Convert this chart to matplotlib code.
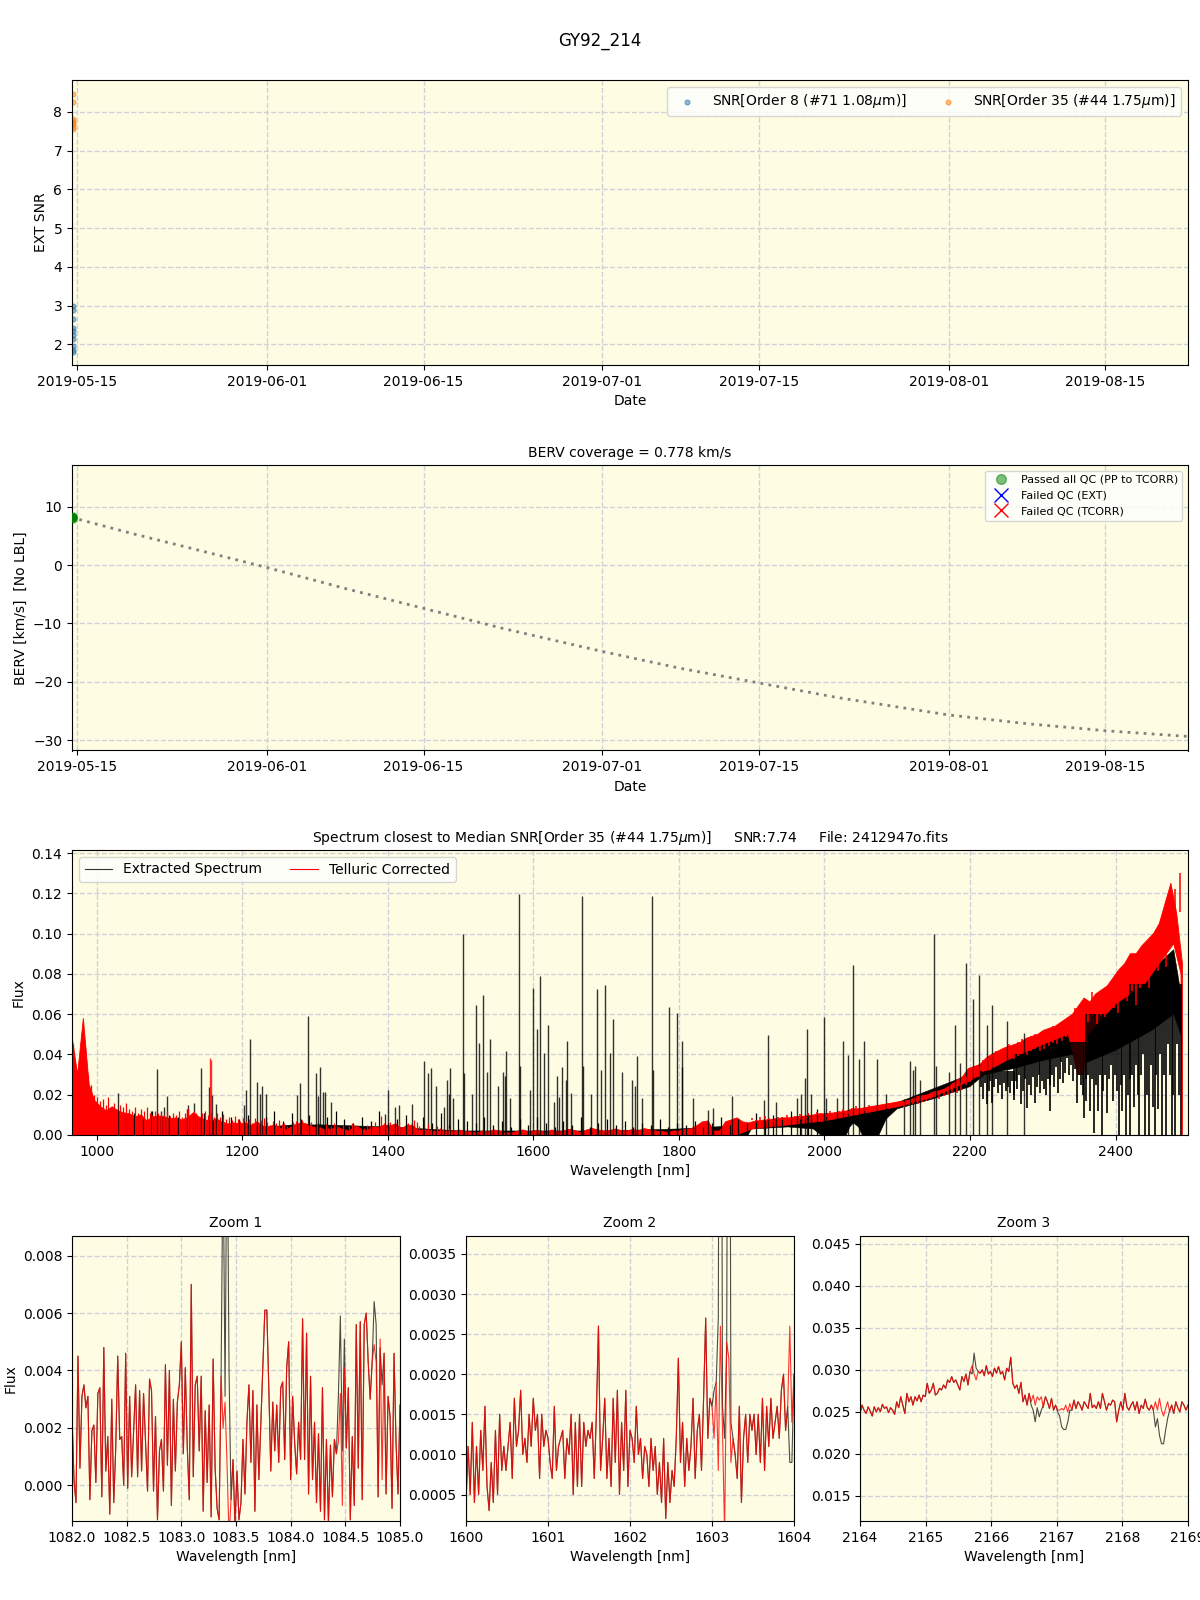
import numpy as np
import matplotlib
matplotlib.use('Agg')
import matplotlib.pyplot as plt
import matplotlib.dates as mdates
from matplotlib.lines import Line2D
from datetime import datetime

W, H = 1200, 1600
bg = '#fefde3'

date_ticks = ['2019-05-15', '2019-06-01', '2019-06-15', '2019-07-01', '2019-07-15', '2019-08-01', '2019-08-15']
obs_day = '2019-05-14 15:00'

snr_order8 = [1.8, 1.85, 1.95, 2.15, 2.25, 2.35, 2.42, 2.65, 2.9, 3.0]
snr_order35 = [7.55, 7.62, 7.68, 7.72, 7.76, 7.82, 8.25, 8.47]

berv_dates = ['2019-05-14 12:00', '2019-05-20', '2019-05-25', '2019-06-01', '2019-06-08', '2019-06-15', '2019-06-22',
              '2019-07-01', '2019-07-08', '2019-07-15', '2019-07-22', '2019-08-01', '2019-08-08', '2019-08-15',
              '2019-08-22 12:00']
berv_vals = [8.2, 5.4, 3.0, -0.4, -4.0, -7.4, -10.8, -14.8, -17.7, -20.2, -22.7, -25.7, -27.2, -28.4, -29.4]
berv_obs = [8.0, 8.1, 8.2, 8.3, 8.4]

# full spectrum, telluric corrected: top edge, every 8 nm from 966
red_top = [.05, .03, .058, .025, .017, .014,
           .012, .014, .012, .011, .0105, .009, .01, .007, .009, .0095, .009,
           .008, .0085, .0075, .0085, .011, .009, .0075, .007, .008, .0065, .0055, .006,
           .0055, .006, .0048, .0065, .0045, .004, .005, .0035, .0025, .004, .0055, .006, .005,
           .0035, .0035, .002, .003, .004, .0025, .002, .0045, .003, .002, .004, .0035, .005,
           .0045, .0055, .003, .005, .0045, .002, .0025, .002, .0015, .002, .002, .0015, .0025,
           .0018, .0015, .001, .002, .0015, .0025, .002, .0012, .001, .0018, .0025, .0015, .0022,
           .002, .0012, .0025, .0015, .002, .0028, .0022, .0012, .0025, .0032, .0025, .002, .0022,
           .003, .0022, .002, .0028, .002, .0032, .0025, .002, .0018, .0012, .002, .002, .0028,
           .003, .0045, .0065, .007, .002, .002, .0065, .0075, .0085, .0065, .006, .0068, .0072,
           .0075, .0078, .0082, .0085, .0085, .009, .0092, .0095, .0098, .0105, .0105, .0108, .011,
           .0115, .012, .013, .013, .0135, .014, .0145, .015, .0155, .016, .0165, .017, .0175,
           .019, .0195, .02, .0215, .022, .023, .025, .027, .029, .033, .034, .035, .038,
           .04, .0415, .043, .044, .045, .046, .048, .049, .05, .052, .053, .054, .056,
           .058, .06, .064, .068, .066, .07, .072, .074, .078, .082, .085, .09, .09,
           .094, .097, .1, .105, .115, .125, .11, .085]
red_low_wave = [966, 1880, 1900, 2000, 2100, 2150, 2200, 2250, 2300, 2335, 2342, 2348, 2356, 2362, 2400, 2440, 2470, 2480, 2490, 2492]
red_low = [0, 0, .003, .007, .014, .019, .027, .037, .045, .05, .04, .03, .03, .05, .065, .075, .09, .095, .08, 0]
red_spike_wave = [1124, 1156, 1157]
red_spike_flux = [.013, .038, .037]

# small peaks on the red edge, every 4 nm from 968
red_grass_a = [.045, .03, .026, .035, .042, .03, .025, .02, .019, .017,
               .018, .015, .019, .014, .016, .013, .015, .014, .016, .013,
               .012, .014, .011, .013, .012, .014, .011, .01, .012, .011,
               .011, .01, .012, .0095, .011, .01, .012, .009, .011, .013,
               .01, .012, .011, .009, .011, .012, .01, .0115, .009, .011,
               .009, .0105, .008, .009, .0075, .0095, .008, .007, .0085, .007,
               .008, .006, .0085, .0065, .0075, .0085, .0065, .005, .007, .006,
               .0075, .0055, .006, .0045, .004, .0065, .007, .0055, .0075, .006,
               .005, .0065, .0045, .0055, .004, .0035, .0055, .0035, .0045, .006,
               .0035, .0025, .005, .003, .0045, .006, .003, .0045, .0025, .0035,
               .005, .0045, .003, .0065, .004, .0095, .006, .004, .0065, .0055,
               .0045, .007, .004, .0035, .006, .0055, .0075, .0065, .0045, .003,
               .0035, .0055, .003, .0025, .0045, .0035, .003, .002, .0035, .0025]
# every 6 nm from 1900
red_grass_b = [.0085, .0075, .009, .0095, .0085, .0075, .0088, .009, .01, .0085,
               .0095, .0105, .0095, .011, .01, .0115, .011, .0105, .012, .0115,
               .012, .013, .012, .0135, .0145, .013, .014, .015, .014, .0145,
               .015, .016, .0155, .0165, .017, .0165, .0175, .018, .018, .0195,
               .02, .021, .022, .021, .023, .0235, .025, .0245, .026, .029,
               .031, .034, .034, .037, .038, .04, .0415, .042, .043, .045,
               .0445, .046, .0475, .0465, .049, .05, .049, .0505, .052, .054,
               .053, .055, .057, .056, .063, .06, .064, .066, .071, .065,
               .07, .069, .073, .074, .071, .08, .078, .084, .076, .086,
               .092, .086, .1, .096, .104, .098, .11, .122, .13]

black_top_wave = [966, 1200, 1270, 1310, 1400, 1500, 1700, 1800, 1900, 2000, 2100, 2200, 2300, 2400, 2450, 2480, 2490]
black_top = [.005, .003, .005, .005, .004, .002, .002, .003, .005, .0095, .016, .03, .047, .068, .082, .092, .07]
black_low_wave = [966, 1895, 1900, 1950, 1985, 1995, 2030, 2035, 2040, 2047, 2052, 2075, 2085, 2100, 2150, 2200, 2220, 2260, 2300, 2340, 2360, 2400, 2450, 2480, 2490]
black_low = [0, 0, .003, .004, .003, 0, 0, .004, .006, .004, 0, 0, .008, .013, .018, .024, .03, .033, .037, .04, .036, .042, .052, .06, .05]

# low peaks of the extracted spectrum, 1040 to 1990 nm
black_grass = [.009, .011, .008, .012, .007, .01, .009, .013, .008, .011,
               .007, .012, .009, .008, .01, .006, .009, .012, .007, .011,
               .008, .01, .006, .009, .012, .008, .006, .009, .007, .012,
               .006, .008, .01, .005, .009, .006, .011, .005, .008, .007,
               .006, .009, .005, .007, .004, .008, .005, .009, .006, .004,
               .007, .005, .009, .004, .006, .008, .005, .007, .004, .006,
               .005, .008, .004, .006, .005, .007, .004, .006, .009, .005,
               .008, .006, .011, .007, .01, .009, .012, .008, .011, .013]

spike_wave = [1029, 1075, 1083, 1088, 1093, 1097, 1125, 1134, 1143, 1154, 1159, 1164, 1203, 1205, 1211, 1221, 1224, 1227, 1233,
              1276, 1279, 1290, 1301, 1307, 1304, 1311, 1314, 1322, 1396, 1400, 1410, 1415, 1433, 1450, 1455, 1459, 1467, 1477,
              1481, 1484, 1486, 1490, 1504, 1505, 1516, 1521.5, 1526, 1531, 1537, 1541, 1551, 1558, 1561, 1563, 1568, 1580, 1581.5,
              1595, 1600, 1605, 1609.5, 1615, 1620.5, 1628, 1632, 1636, 1640, 1645, 1647, 1652, 1666.5, 1668, 1680, 1687.5,
              1693, 1698.5, 1705, 1710, 1722, 1736, 1740, 1743, 1749, 1763, 1765, 1786, 1797, 1804.5, 1805, 1819, 1840, 1847,
              1873, 1917, 1923, 1933, 1962, 1968, 1973, 1976, 1982, 2000, 2002, 2018, 2026, 2032, 2040, 2048, 2055, 2072, 2085,
              2110, 2117, 2122, 2125, 2132, 2150, 2154, 2171, 2179, 2186, 2194.5, 2204, 2212, 2224, 2230, 2251, 2274]
spike_flux = [.021, .012, .033, .012, .014, .0195, .015, .016, .0335, .024, .02, .0155, .015, .0225, .0475, .0265, .0205, .0245, .0205,
              .02, .026, .059, .031, .034, .0195, .0215, .0215, .0165, .0105, .0225, .014, .015, .0155, .0365, .031, .0335, .0245, .014,
              .0275, .0205, .0335, .0185, .1, .031, .0205, .0645, .0455, .0695, .0315, .0475, .0245, .0315, .0295, .0415, .0185, .1195, .0345,
              .0225, .073, .0525, .079, .0405, .0545, .0165, .0295, .019, .034, .0275, .0465, .021, .1185, .0345, .0205, .0725,
              .0325, .0745, .0405, .0575, .0315, .0275, .0245, .039, .0185, .1185, .0325, .0635, .0605, .034, .0465, .0185, .0125, .0135,
              .0195, .0175, .0495, .0165, .0185, .0205, .0285, .0525, .0205, .0585, .0185, .0185, .0465, .0395, .0845, .0375, .0465, .0375, .0205,
              .018, .0365, .0325, .0345, .0275, .1, .0345, .0315, .0545, .0355, .0855, .0675, .0795, .0545, .0645, .0565, .0505]

# absorption dips of the extracted spectrum, region by region
dip_a = [.024, .018, .026, .0155, .022, .027, .016, .024, .028, .021, .025, .018, .026, .022, .024, .021, .027, .02]
dip_b = [.0175, .027, .023, .03, .0155, .022, .028, .0135, .025, .02, .029, .016, .024, .03, .021, .027, .023, .02, .028, .025]
dip_c = [.012, .03, .024, .034, .021, .028, .036, .026, .031, .038, .03, .035, .027, .033, .016, .03, .025, .02, .0085, .028]
dip_d = [.017, .03, .012, .028, .001, .025, .012, .03, 0, .022, .03, .011, .028, .035, .017, .03, .022, 0, .025, .012, .03, 0, .02, .028]
dip_e = [0, .03, .014, .035, .02, 0, .03, .04, 0, .02, 0, .035, .014, 0, .03, .013, .04, 0, .03, 0, .045, .03, 0, .02, 0, .045, .02, 0]
dip_ranges = [(2215, 2260, .032), (2260, 2310, .04), (2310, 2360, .046), (2360, 2420, .06), (2420, 2490, .075)]

zoom1_red = [.0024, .0002, -.0006, .0045, .0006, .0031, .0035, .0027, .0031, -.0005,
             .0019, .0021, .0001, .0032, .0034, -.0004, .0048, .0005, .0017, -.001,
             .003, -.0006, .0013, .0045, .0016, .0017, 0., .0046, -.0001, .0031,
             .0003, .0019, .0035, .0003, .0033, .0005, .0032, .0015, -.0002, .0037,
             .0033, -.0002, .0024, -.0012, .0012, .0016, -.0002, .0042, .0007, .004,
             -.0007, .003, .0005, .0029, .0035, .005, .0011, .0041, .0013, -.0005,
             .007, .0003, .0035, .0038, .0012, .0038, -.0009, .0026, .0001, .0028,
             -.0011, .0044, .0006, -.0008, -.0012, .0038, .002, .0029, .0007, -.0018,
             -.0005, .0009, -.0014, .0005, -.0012, -.0006, .0016, -.0003, .0022, .0035,
             .0008, .0033, -.0009, .0028, .0002, .0022, .0042, .0061, .0061, .0034,
             .0005, .0029, .0012, .0028, .0008, .0034, .0036, .0009, .0041, .005,
             .0002, .0031, .0015, .0004, .0022, .0009, .0058, .0009, .0053, -.0003,
             .0038, .0002, .0022, -.0006, .0018, -.0009, .0034, -.0012, .0016, -.0013,
             .0014, -.0004, .0016, .0011, .0015, .0032, -.0007, .0041, .0013, .0034,
             -.0012, .0017, -.0007, .0056, .0006, .0057, -.0005, .0056, .006, .0043,
             .003, .0043, .0049, .0043, -.0004, .0051, .0002, .0046, -.0003, .0031,
             .0024, -.0008, .0046, .0015, -.0003, .0028]
zoom1_black_idx = [76, 77, 78, 79, 134, 135, 136, 137, 152, 153, 155, 156]
zoom1_black_val = [.012, .0031, .0135, .004, .0031, .0059, .0012, .0051, .0064, .0056, .0048, .0035]

zoom2_red = [.0004, .0011, .0005, .0014, .0004, .0011, .0005, .0013, .0008, .0016,
             .0006, .0003, .0009, .0004, .0013, .0005, .0015, .0008, .0011, .0008,
             .0011, .0014, .0007, .0017, .0011, .0013, .0018, .001, .0012, .0009,
             .0015, .0011, .0017, .0013, .0015, .0007, .0015, .0011, .0013, .0012,
             .0009, .0007, .0016, .0008, .0011, .0012, .0013, .0007, .0012, .001,
             .0015, .0005, .0014, .0006, .0015, .0006, .0014, .0011, .0013, .0012,
             .0014, .0007, .0015, .0026, .0008, .0012, .0017, .0007, .0012, .0006,
             .0017, .0009, .0018, .0005, .0014, .0008, .0018, .0006, .0013, .0012,
             .0009, .0016, .001, .0012, .0007, .0011, .001, .0006, .0012, .0008,
             .0011, .0005, .0009, .0004, .0012, .0002, .0009, .0004, .0008, .0006,
             .0012, .0022, .0009, .0014, .0006, .0012, .0008, .0011, .0017, .0007,
             .0013, .0015, .0008, .0017, .0027, .0012, .0017, .0016, .0012, .0019,
             .0008, .0026, .0013, 0, .0024, .0022, .0009, .0012,
             .001, .0007, .0016, .0004, .0012, .0015, .0009, .0015, .0013, .0015, .001, .0015,
             .0009, .0017, .0008, .0016, .0011, .0017, .0012, .0014, .0016, .0012, .0018, .002,
             .0013, .0016, .0026, .0014, .002]
zoom2_black_idx = [118, 120, 121, 122, 123, 124, 125, 126, 127, 154, 155]
zoom2_black_val = [.0018, .0027, .012, .0016, .0012, .0024, .012, .0014, .0012, .0009, .0009]

zoom3_red = [.0248, .0258, .0252, .0248, .0256, .0251, .0245, .0256, .025, .0255,
             .025, .0259, .0254, .0256, .0249, .0255, .0252, .0247, .0262, .0255,
             .0268, .0258, .0248, .0272, .0262, .0268, .0258, .0268, .0263, .027,
             .0262, .027, .0268, .0284, .0272, .0276, .0284, .027, .0272, .0278,
             .0276, .0282, .0278, .0288, .0285, .0292, .0285, .0288, .0282, .0276,
             .0292, .0286, .0295, .0282, .0298, .0305, .0295, .0288, .0298, .0296,
             .03, .0293, .0305, .0295, .0298, .0292, .0302, .0296, .0304, .0295,
             .0298, .0288, .0302, .0298, .0315, .0284, .0278, .0282, .0272, .0285,
             .0262, .027, .0258, .0272, .0262, .027, .0258, .0268, .0264, .0268,
             .0255, .0268, .0262, .0254, .0266, .0252, .0258, .0252, .0252, .0254,
             .0252, .0258, .025, .026, .0252, .0264, .0254, .0262, .0258, .0252,
             .0262, .0258, .0254, .0272, .0255, .0258, .0254, .0262, .0254, .0272,
             .0262, .0252, .026, .0258, .0264, .0262, .0238, .0252, .0262, .0252,
             .0272, .0256, .0252, .0258, .0262, .0252, .0262, .0248, .0258, .0254,
             .0265, .0255, .0252, .0258, .0252, .0262, .0252, .0266, .0252, .0245,
             .0254, .0262, .025, .0258, .0248, .0262, .0255, .025, .0262, .0258,
             .0252, .0258]
zoom3_black_idx = [55, 56, 57, 84, 85, 86, 87, 88, 89, 90, 97, 98, 99, 100, 101, 102, 103,
                   145, 146, 147, 148, 149, 150, 151, 152]
zoom3_black_val = [.0295, .032, .0302, .0258, .0252, .0238, .0255, .0244, .0252, .0258, .025, .0245, .0232, .0229, .0229, .0238, .0252,
                   .0232, .0242, .0222, .0212, .0212, .0228, .0242, .0252]


def dt(s):
    return datetime.fromisoformat(s)


def panel(px_left, px_top, px_right, px_bottom):
    ax = fig.add_axes([px_left / W, 1 - px_bottom / H, (px_right - px_left) / W, (px_bottom - px_top) / H])
    ax.set_facecolor(bg)
    ax.grid(True, ls='--', color='#d0d0d8', lw=1)
    ax.set_axisbelow(True)
    return ax


def date_axis(ax):
    ax.set_xlim(dt('2019-05-14 13:00'), dt('2019-08-22 10:00'))
    ax.set_xticks([dt(d) for d in date_ticks])
    ax.xaxis.set_major_formatter(mdates.DateFormatter('%Y-%m-%d'))
    ax.set_xlabel('Date')


def zoom_panel(ax, red, idx, val, x0, x1, y0, y1, title):
    wave = np.linspace(x0, x1, len(red))
    black = np.array(red)
    black[idx] = val
    ax.plot(wave, black, color='k', lw=0.8, alpha=0.7)
    ax.plot(wave, red, color='r', lw=0.8, alpha=0.8)
    ax.set_xlim(x0, x1)
    ax.set_ylim(y0, y1)
    ax.set_title(title, fontsize=10)
    ax.set_xlabel('Wavelength [nm]')


fig = plt.figure(figsize=(12, 16), dpi=100)
fig.text(0.5, 1 - 41 / H, 'GY92_214', ha='center', va='center', fontsize=12)

# SNR
ax1 = panel(72, 80, 1188, 365)
ax1.scatter([dt(obs_day)] * len(snr_order8), snr_order8, s=12, alpha=0.5, label=r'SNR[Order 8 (#71 1.08$\mu$m)]')
ax1.scatter([dt(obs_day)] * len(snr_order35), snr_order35, s=12, alpha=0.5, label=r'SNR[Order 35 (#44 1.75$\mu$m)]')
date_axis(ax1)
ax1.set_ylim(1.47, 8.82)
ax1.set_ylabel('EXT SNR')
ax1.legend(loc='upper right', ncol=2)

# BERV
ax2 = panel(72, 465, 1188, 750.5)
ax2.plot([dt(d) for d in berv_dates], berv_vals, color='gray', lw=2, ls=(0, (1, 1.9)), zorder=2)
ax2.scatter([dt(obs_day)] * len(berv_obs), berv_obs, s=25, color='g', alpha=0.5, zorder=3)
date_axis(ax2)
ax2.set_ylim(-31.8, 17.2)
ax2.set_title('BERV coverage = 0.778 km/s', fontsize=10)
ax2.set_ylabel('BERV [km/s]  [No LBL]')
handles = [Line2D([], [], ls='', marker='o', color='g', alpha=0.5, ms=7),
           Line2D([], [], ls='', marker='x', color='b', ms=10),
           Line2D([], [], ls='', marker='x', color='r', ms=10)]
ax2.legend(handles, ['Passed all QC (PP to TCORR)', 'Failed QC (EXT)', 'Failed QC (TCORR)'], loc='upper right', fontsize=8)

# full spectrum
ax3 = panel(72, 850, 1188, 1135)
red_wave = np.linspace(966, 2492, len(red_top))
ax3.fill(np.r_[black_top_wave, black_low_wave[::-1]], np.r_[black_top, black_low[::-1]], color='k', lw=0.4)
ax3.vlines(np.linspace(1040, 1990, len(black_grass)), 0, black_grass, color='k', lw=0.9)
ax3.vlines(spike_wave, 0, spike_flux, color='k', lw=1, alpha=0.8)
for dips, (w0, w1, top) in zip([dip_a, dip_b, dip_c, dip_d, dip_e], dip_ranges):
    ax3.vlines(np.linspace(w0, w1, len(dips)), dips, top, color='k', lw=1.2)
ax3.fill(np.r_[red_wave, red_low_wave[::-1]], np.r_[red_top, red_low[::-1]], color='r', lw=0.6)
ax3.vlines(np.linspace(968, 1488, len(red_grass_a)), 0, red_grass_a, color='r', lw=0.9)
ax3.vlines(np.linspace(1900, 2488, len(red_grass_b)), 0.85 * np.array(red_grass_b), red_grass_b, color='r', lw=1.1)
ax3.vlines(red_spike_wave, 0.002, red_spike_flux, color='r', lw=1, alpha=0.8)
ax3.set_xlim(966.3, 2499.6)
ax3.set_ylim(0, 0.1415)
ax3.set_title(r'Spectrum closest to Median SNR[Order 35 (#44 1.75$\mu$m)]     SNR:7.74     File: 2412947o.fits', fontsize=10)
ax3.set_xlabel('Wavelength [nm]')
ax3.set_ylabel('Flux')
ax3.legend([Line2D([], [], color='k', lw=0.8, alpha=0.8), Line2D([], [], color='r', lw=0.8)],
           ['Extracted Spectrum', 'Telluric Corrected'], loc='upper left', ncol=2)

# zooms
ax4 = panel(72, 1235.5, 400, 1521)
zoom_panel(ax4, zoom1_red, zoom1_black_idx, zoom1_black_val, 1082, 1085, -0.00124, 0.0087, 'Zoom 1')
ax4.set_ylabel('Flux')
ax5 = panel(466, 1235.5, 794, 1521)
zoom_panel(ax5, zoom2_red, zoom2_black_idx, zoom2_black_val, 1600, 1604, 0.00017, 0.00373, 'Zoom 2')
ax6 = panel(860, 1235.5, 1188, 1521)
zoom_panel(ax6, zoom3_red, zoom3_black_idx, zoom3_black_val, 2164, 2169, 0.012, 0.046, 'Zoom 3')
ax6.set_xticks([2164, 2165, 2166, 2167, 2168, 2169])

fig.savefig('out.png', dpi=100)
